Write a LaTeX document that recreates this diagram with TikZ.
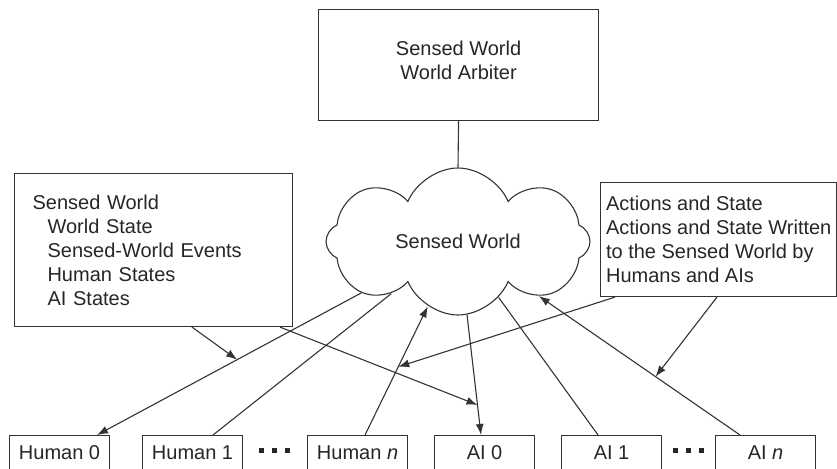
\documentclass[tikz,border=0pt]{standalone}
\usepackage{fontspec}
\setmainfont{Liberation Sans}
\usetikzlibrary{shapes.symbols,arrows.meta}
\newcommand\dotrow{\rule{5pt}{5pt}\hspace{8pt}\rule{5pt}{5pt}\hspace{8pt}\rule{5pt}{5pt}}

\begin{document}
\begin{tikzpicture}[x=1pt,y=-1pt,
	plain/.style={draw=black!80,line width=1.1pt},
	box/.style={plain,rectangle,anchor=north west,text=black!85,font=\fontsize{20}{24}\selectfont},
	agent/.style={box,minimum width=100pt,minimum height=35pt,inner sep=0pt},
	arr/.style={plain,-{Latex[length=11pt,width=8pt]}}]
	\useasboundingbox (0,0) rectangle (837,468);
	\clip (0,0) rectangle (837,468);
	%ARBITER AND CLOUD
	\node[box,minimum width=280pt,minimum height=111pt,align=center,text depth=10pt] (arbiter) at (318,9) {Sensed World\\World Arbiter};
	\node[plain,cloud,cloud puffs=8,cloud puff arc=135,cloud ignores aspect,inner sep=0pt,minimum width=264pt,minimum height=147pt,text=black!85,font=\fontsize{20}{24}\selectfont] (world) at (458,241.5) {Sensed World};
	\draw[plain] (arbiter.south)--(world.north);
	%SIDE BOXES
	\node[box,text width=242pt,inner xsep=18pt,minimum height=153pt,align=left] (state) at (14,173) {Sensed World\\
		\hspace*{15pt}World State\\
		\hspace*{15pt}Sensed-World Events\\
		\hspace*{15pt}Human States\\
		\hspace*{15pt}AI States};
	\node[box,inner xsep=5.5pt,minimum height=114pt,align=left] (actions) at (600,182) {Actions and State\\
		Actions and State Written\\
		to the Sensed World by\\
		Humans and AIs};
	%HUMANS AND AIS
	\node[agent] (h0) at (9,435) {Human 0};
	\node[agent] (h1) at (142,435) {Human 1};
	\node[agent] (hn) at (307,435) {Human \textit{n}};
	\node[agent] (a0) at (434,435) {AI 0};
	\node[agent] (a1) at (561,435) {AI 1};
	\node[agent] (an) at (715,435) {AI \textit{n}};
	\node[text=black!85] (hdots) at (274,450) {\dotrow};
	\node[text=black!85] (adots) at (688,450) {\dotrow};
	%CONNECTORS
	\draw[arr] (world.208)--coordinate[pos=0.47] (meet0) ([xshift=88pt]h0.north west);
	\draw[plain] (world.218)--([xshift=71pt]h1.north west);
	\draw[arr] ([xshift=58pt]hn.north west)--coordinate[pos=0.53] (meetn) (world.-115);
	\draw[arr] (world.-83)--coordinate[pos=0.75] (meeta0) ([xshift=47pt]a0.north west);
	\draw[plain] (world.-54)--([xshift=37pt]a1.north west);
	\draw[arr] ([xshift=25pt]an.north west)--coordinate[pos=0.42] (meetan) (world.-34.5);
	%SIDE ARROWS
	\draw[arr] ([xshift=178pt]state.south west)--(meet0);
	\draw[arr] ([xshift=266pt]state.south west)--(meeta0);
	\draw[arr] ([xshift=15pt]actions.south west)--(meetn);
	\draw[arr] ([xshift=117pt]actions.south west)--(meetan);
\end{tikzpicture}
\end{document}
